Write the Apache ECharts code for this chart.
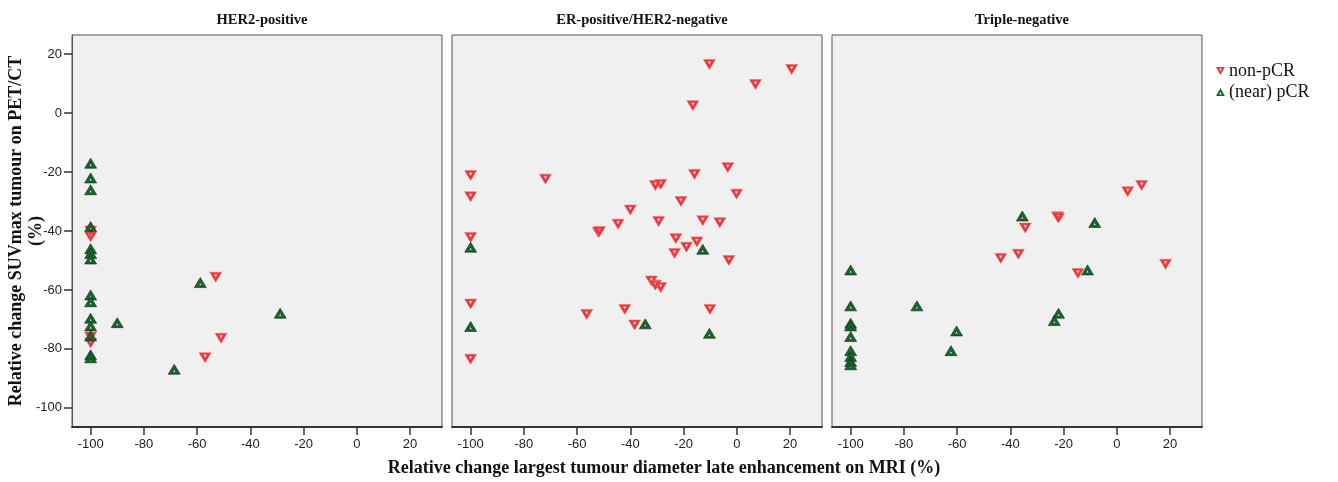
<!DOCTYPE html>
<html>
<head>
<meta charset="utf-8">
<script src="https://cdn.jsdelivr.net/npm/echarts@6/dist/echarts.min.js"></script>
<style>
  html, body { margin: 0; padding: 0; background: #fff; }
  #chart { width: 1338px; height: 482px; }
</style>
</head>
<body>
<div id="chart"></div>
<script>
// panels and tick labels
var panelTitles = ['HER2-positive', 'ER-positive/HER2-negative', 'Triple-negative'];
var xTicks = [-100, -80, -60, -40, -20, 0, 20];
var yTicks = [-100, -80, -60, -40, -20, 0, 20];

// [MRI change %, SUVmax change %]
var her2NonPcr = [[-100, -42], [-100, -40], [-100, -78], [-100, -76], [-53, -55.7], [-51, -76.4], [-57, -83]];
var her2Pcr = [[-100, -17], [-100, -22], [-100, -26], [-100, -38.5], [-100, -46], [-100, -47.6], [-100, -49.5],
  [-100, -61.7], [-100, -64], [-100, -69.6], [-100, -72.2], [-100, -75.6], [-100, -82], [-100, -83],
  [-90, -71.1], [-68.6, -86.9], [-58.8, -57.5], [-28.8, -67.9]];

var erNonPcr = [[-10.3, 16.5], [20.6, 14.8], [7, 9.7], [-16.5, 2.5], [-3.4, -18.5], [-15.9, -20.8], [-100, -21.2],
  [-71.9, -22.4], [-30.6, -24.6], [-28.6, -24.2], [-0.1, -27.5], [-100, -28.4], [-21, -30], [-40, -32.9],
  [-29.4, -36.8], [-12.8, -36.5], [-6.4, -37.2], [-44.6, -37.7], [-52, -40.5], [-51.6, -40.2], [-100, -42.2],
  [-22.9, -42.6], [-15, -43.7], [-18.9, -45.5], [-23.4, -47.6], [-3, -50], [-32.1, -57], [-30.6, -58.4],
  [-28.6, -59.2], [-100, -64.8], [-10.1, -66.6], [-42.1, -66.6], [-56.4, -68.3], [-38.4, -71.9], [-100, -83.5]];
var erPcr = [[-100, -45.5], [-12.8, -46.2], [-100, -72.4], [-34.4, -71.5], [-10.3, -74.7]];

var tnNonPcr = [[9.3, -24.6], [4.1, -26.7], [-22.3, -35.2], [-21.9, -35.6], [-34.4, -39], [-37, -47.9],
  [-43.6, -49.3], [18.3, -51.3], [-14.6, -54.4]];
var tnPcr = [[-100, -53.2], [-100, -65.4], [-100, -71.3], [-100, -72.2], [-100, -75.8], [-100, -80.6],
  [-100, -82.6], [-100, -84.3], [-100, -85.4], [-75.1, -65.4], [-60.2, -73.9], [-62.3, -80.6],
  [-35.5, -34.9], [-8.3, -37.1], [-11, -53.2], [-21.9, -67.9], [-23.5, -70.4]];

var groups = [[her2NonPcr, her2Pcr], [erNonPcr, erPcr], [tnNonPcr, tnPcr]];

var downTri = 'path://M0,0 L10,0 L5,9 Z M3.6,1.8 L5,4.6 L6.4,1.8 Z';
var upTri = 'path://M5,0 L10,9 L0,9 Z M5,4.4 L3.6,7.2 L6.4,7.2 Z';
var redCol = '#e3373b';
var greenCol = '#17672f';

var gridLefts = [72, 452, 832];
var gridWidth = 370;
var serif = '"Liberation Serif", "DejaVu Serif", serif';
var sans = '"Liberation Sans", Arial, sans-serif';

var grids = [], xAxes = [], yAxes = [], titles = [], series = [];
gridLefts.forEach(function (left, i) {
  grids.push({
    left: left, top: 35, width: gridWidth, height: 392,
    show: true, backgroundColor: '#f0f0f0', borderColor: '#555', borderWidth: 1
  });
  xAxes.push({
    gridIndex: i, type: 'value', min: -107, max: 32,
    splitLine: { show: false },
    axisLine: { show: true, onZero: false, lineStyle: { color: '#333', width: 2 } },
    axisTick: { show: true, length: 8, customValues: xTicks, lineStyle: { color: '#333', width: 1.5 } },
    axisLabel: { customValues: xTicks, color: '#222', fontFamily: sans, fontSize: 13, margin: 11 }
  });
  yAxes.push({
    gridIndex: i, type: 'value', min: -106.5, max: 26.5,
    splitLine: { show: false },
    axisLine: { show: i === 0, onZero: false, lineStyle: { color: '#555', width: 1 } },
    axisTick: { show: i === 0, length: 8, customValues: yTicks, lineStyle: { color: '#333', width: 1.5 } },
    axisLabel: { show: i === 0, customValues: yTicks, color: '#222', fontFamily: sans, fontSize: 13, margin: 10 }
  });
  titles.push({
    text: panelTitles[i], left: left + gridWidth / 2, top: 8, textAlign: 'center',
    textStyle: { fontFamily: serif, fontWeight: 'bold', fontSize: 14.5, color: '#111' }
  });
  series.push({
    name: 'non-pCR', type: 'scatter', xAxisIndex: i, yAxisIndex: i,
    data: groups[i][0], symbol: downTri, symbolSize: [12, 10],
    itemStyle: { color: redCol, borderColor: '#f07070', borderWidth: 0.6, opacity: 1 }
  });
  series.push({
    name: '(near) pCR', type: 'scatter', xAxisIndex: i, yAxisIndex: i,
    data: groups[i][1], symbol: upTri, symbolSize: [12, 10],
    itemStyle: { color: greenCol, borderColor: '#0b2a14', borderWidth: 0.6, opacity: 1 }
  });
});

var chart = echarts.init(document.getElementById('chart'));
chart.setOption({
  animation: false,
  title: titles,
  grid: grids,
  xAxis: xAxes,
  yAxis: yAxes,
  legend: {
    orient: 'vertical', left: 1216, top: 62, itemGap: 3, padding: 0,
    itemWidth: 9, itemHeight: 8,
    data: [
      { name: 'non-pCR', icon: downTri, itemStyle: { color: redCol, borderWidth: 0 } },
      { name: '(near) pCR', icon: upTri, itemStyle: { color: greenCol, borderWidth: 0 } }
    ],
    textStyle: { fontFamily: serif, fontSize: 18, color: '#111', padding: [0, 0, 0, -1] }
  },
  graphic: [
    {
      type: 'text', x: 26, y: 231, rotation: Math.PI / 2,
      style: {
        text: 'Relative change SUVmax tumour on PET/CT\n(%)', align: 'center', verticalAlign: 'middle',
        font: 'bold 18px ' + serif, fill: '#111', lineHeight: 20
      }
    },
    {
      type: 'text', x: 664, y: 468,
      style: {
        text: 'Relative change largest tumour diameter late enhancement on MRI (%)',
        align: 'center', verticalAlign: 'middle', font: 'bold 18px ' + serif, fill: '#111'
      }
    }
  ],
  series: series
});
</script>
</body>
</html>
